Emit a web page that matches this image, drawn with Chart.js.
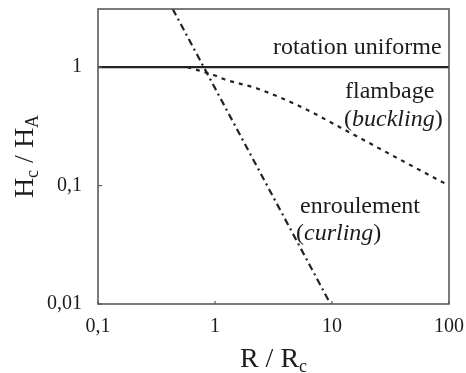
<!DOCTYPE html>
<html>
<head>
<meta charset="utf-8">
<script src="https://cdn.jsdelivr.net/npm/chart.js@4"></script>
<style>
  html, body { margin: 0; padding: 0; background: #fff; }
  #wrap { width: 466px; height: 373px; position: relative; }
</style>
</head>
<body>
<div id="wrap"><canvas id="chart"></canvas></div>
<script>
// axes : R/Rc en x, Hc/HA en y (log-log)
const xTicks = [0.1, 1, 10, 100];
const yTicks = [0.01, 0.1, 1];
const xRange = [0.1, 100];
const yRange = [0.01, 3.1];

// rotation uniforme
const uniformeX = [0.1, 100];
const uniformeY = [1, 1];

// flambage (buckling)
const flambageX = [0.58, 1.0, 1.2, 2.3, 5.5, 12.5, 35.6, 100];
const flambageY = [1.0, 0.85, 0.79, 0.66, 0.46, 0.30, 0.172, 0.10];

// enroulement (curling)
const enroulementX = [0.435, 9.7];
const enroulementY = [3.1, 0.01];

const SERIF = '"Liberation Serif", "DejaVu Serif", serif';
const INK = '#1c1c1c';

function toPoints(xs, ys) {
  return xs.map((x, i) => ({ x: x, y: ys[i] }));
}

function fmtTick(v) {
  return String(v).replace('.', ',');
}

// texte en plusieurs morceaux (romain / italique / indice)
function drawRuns(ctx, runs, x, y) {
  let cx = x;
  runs.forEach(r => {
    ctx.font = r.font;
    ctx.fillText(r.text, cx, y + (r.dy || 0));
    cx += ctx.measureText(r.text).width;
  });
}

const framePlugin = {
  id: 'frame',
  afterDatasetsDraw(chart) {
    const { ctx, chartArea: a, scales } = chart;
    ctx.save();
    ctx.strokeStyle = '#5a5a5a';
    ctx.lineWidth = 1.6;
    ctx.strokeRect(a.left, a.top, a.right - a.left, a.bottom - a.top);
    // petites graduations vers l'intérieur
    ctx.lineWidth = 1.2;
    xTicks.forEach(v => {
      const px = scales.x.getPixelForValue(v);
      ctx.beginPath(); ctx.moveTo(px, a.bottom); ctx.lineTo(px, a.bottom - 3); ctx.stroke();
    });
    yTicks.forEach(v => {
      const py = scales.y.getPixelForValue(v);
      ctx.beginPath(); ctx.moveTo(a.left, py); ctx.lineTo(a.left + 4, py); ctx.stroke();
    });
    ctx.restore();
  }
};

const labelsPlugin = {
  id: 'labels',
  afterDraw(chart) {
    const { ctx, chartArea: a } = chart;
    const big = '28px ' + SERIF;
    const sub = '18px ' + SERIF;
    const rom = '24px ' + SERIF;
    const ita = 'italic 24px ' + SERIF;
    ctx.save();
    ctx.fillStyle = INK;
    ctx.textBaseline = 'alphabetic';
    ctx.textAlign = 'left';

    // légendes dans le graphe
    drawRuns(ctx, [{ text: 'rotation uniforme', font: rom }], 273, 54);
    drawRuns(ctx, [{ text: 'flambage', font: rom }], 345, 98);
    drawRuns(ctx, [
      { text: '(', font: rom }, { text: 'buckling', font: ita }, { text: ')', font: rom }
    ], 344, 126);
    drawRuns(ctx, [{ text: 'enroulement', font: rom }], 300, 213);
    drawRuns(ctx, [
      { text: '(', font: rom }, { text: 'curling', font: ita }, { text: ')', font: rom }
    ], 296, 240);

    // titre axe x : R / Rc
    const xRuns = [
      { text: 'R / R', font: big }, { text: 'c', font: sub, dy: 5 }
    ];
    let w = 0;
    xRuns.forEach(r => { ctx.font = r.font; w += ctx.measureText(r.text).width; });
    drawRuns(ctx, xRuns, (a.left + a.right) / 2 - w / 2, 367);

    // titre axe y : Hc / HA
    const yRuns = [
      { text: 'H', font: big }, { text: 'c', font: sub, dy: 5 },
      { text: ' / H', font: big }, { text: 'A', font: sub, dy: 5 }
    ];
    w = 0;
    yRuns.forEach(r => { ctx.font = r.font; w += ctx.measureText(r.text).width; });
    ctx.translate(33, (a.top + a.bottom) / 2);
    ctx.rotate(-Math.PI / 2);
    drawRuns(ctx, yRuns, -w / 2, 0);
    ctx.restore();
  }
};

new Chart(document.getElementById('chart'), {
  type: 'line',
  data: {
    datasets: [
      {
        label: 'rotation uniforme',
        data: toPoints(uniformeX, uniformeY),
        borderColor: '#222', borderWidth: 2.2,
        pointRadius: 0
      },
      {
        label: 'flambage',
        data: toPoints(flambageX, flambageY),
        borderColor: '#222', borderWidth: 2.2,
        borderDash: [4, 5],
        cubicInterpolationMode: 'monotone',
        pointRadius: 0
      },
      {
        label: 'enroulement',
        data: toPoints(enroulementX, enroulementY),
        borderColor: '#222', borderWidth: 2.2,
        borderDash: [7, 4, 2, 4],
        pointRadius: 0
      }
    ]
  },
  options: {
    responsive: true,
    maintainAspectRatio: false,
    animation: false,
    layout: { padding: { top: 9, right: 17, left: 0, bottom: 0 } },
    plugins: { legend: { display: false }, tooltip: { enabled: false } },
    scales: {
      x: {
        type: 'logarithmic',
        min: xRange[0], max: xRange[1],
        afterBuildTicks: s => { s.ticks = xTicks.map(v => ({ value: v })); },
        afterFit: s => { s.height = 69; s.paddingLeft = 0; s.paddingRight = 0; },
        grid: { display: false, drawTicks: false },
        border: { display: false },
        ticks: {
          color: INK, padding: 11, maxRotation: 0, autoSkip: false,
          font: { family: SERIF, size: 20 },
          callback: v => fmtTick(v)
        }
      },
      y: {
        type: 'logarithmic',
        min: yRange[0], max: yRange[1],
        afterBuildTicks: s => { s.ticks = yTicks.map(v => ({ value: v })); },
        afterFit: s => { s.width = 98; s.paddingTop = 0; s.paddingBottom = 0; },
        grid: { display: false, drawTicks: false },
        border: { display: false },
        ticks: {
          color: INK, padding: 16, autoSkip: false,
          font: { family: SERIF, size: 20 },
          callback: v => fmtTick(v)
        }
      }
    }
  },
  plugins: [framePlugin, labelsPlugin]
});
</script>
</body>
</html>
